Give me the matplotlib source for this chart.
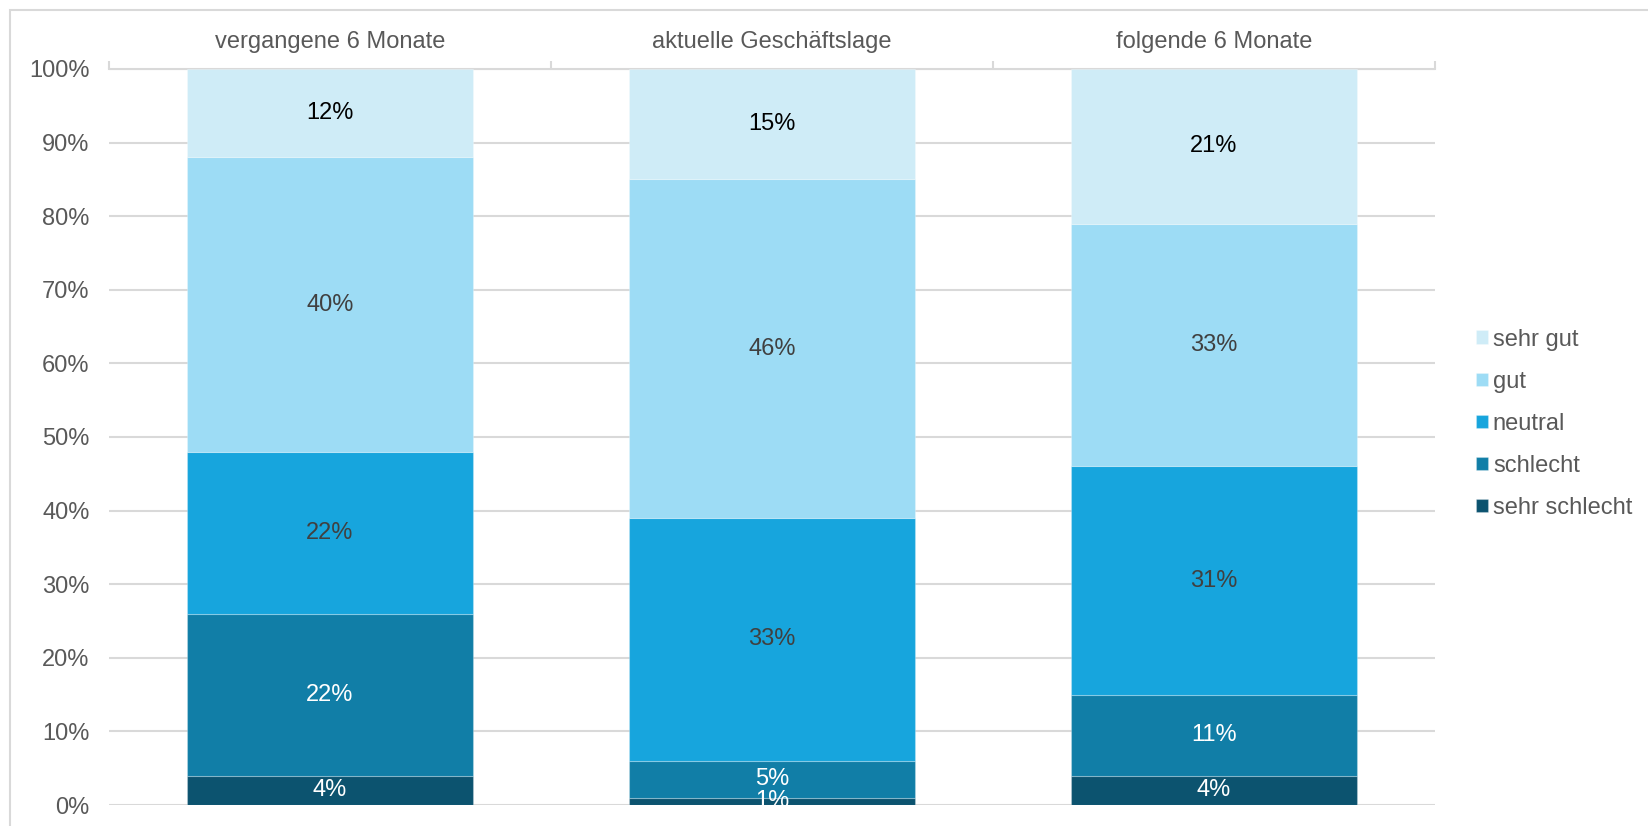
import matplotlib
matplotlib.use("Agg")
import matplotlib.pyplot as plt
from matplotlib.patches import Rectangle
import numpy as np

plt.rcParams['font.family'] = ['Liberation Sans', 'DejaVu Sans']

kategorien = ['vergangene 6 Monate', 'aktuelle Geschäftslage', 'folgende 6 Monate']
stufen = ['sehr schlecht', 'schlecht', 'neutral', 'gut', 'sehr gut']
sehr_schlecht = [4, 1, 4]
schlecht = [22, 5, 11]
neutral = [22, 33, 31]
gut = [40, 46, 33]
sehr_gut = [12, 15, 21]

farben = ['#0C536F', '#117EA7', '#17A5DD', '#9DDCF5', '#CFECF7']
textfarben = ['white', 'white', '#404040', '#404040', 'black']
grau = '#D9D9D9'
schrift = '#595959'
fs = 17

werte = [sehr_schlecht, schlecht, neutral, gut, sehr_gut]

fig = plt.figure(figsize=(16.48, 8.26), dpi=100)
ax = fig.add_axes([0.0661, 0.0254, 0.8047, 0.8911])

x = np.arange(len(kategorien))
unten = np.zeros(len(kategorien))
for name, w, f, tf in zip(stufen, werte, farben, textfarben):
    w = np.array(w, dtype=float)
    ax.bar(x, w, 0.645, bottom=unten, color=f, label=name,
           edgecolor=(1, 1, 1, 0.25), linewidth=0.8, zorder=3)
    for xi, wi, ui in zip(x, w, unten):
        ax.text(xi, ui + wi / 2, f"{wi:.0f}%", ha='center', va='center',
                color=tf, fontsize=fs, zorder=4)
    unten += w

ax.set_xlim(-0.5, 2.5)
ax.set_ylim(0, 100)
ax.set_yticks(range(0, 101, 10))
ax.set_yticklabels([f"{t}%" for t in range(0, 101, 10)])
ax.yaxis.grid(True, color=grau, linewidth=1.5, zorder=0)
ax.tick_params(axis='y', length=0, pad=14, labelsize=fs, labelcolor=schrift)

ax.xaxis.tick_top()
ax.set_xticks(x)
ax.set_xticklabels(kategorien)
ax.set_xticks([-0.5, 0.5, 1.5, 2.5], minor=True)
ax.tick_params(axis='x', which='major', length=0, pad=11.5, labelsize=fs, labelcolor=schrift)
ax.tick_params(axis='x', which='minor', length=6, width=1.5, color=grau, direction='out')

for s in ['left', 'right', 'bottom']:
    ax.spines[s].set_visible(False)
ax.spines['top'].set_color(grau)
ax.spines['top'].set_linewidth(1.5)

h, l = ax.get_legend_handles_labels()
leg = ax.legend(h[::-1], l[::-1], loc='center left', bbox_to_anchor=(1.024, 0.518),
                frameon=False, fontsize=fs, handlelength=0.5, handleheight=0.5,
                handletextpad=0.2, labelspacing=0.85, borderaxespad=0)
for t in leg.get_texts():
    t.set_color(schrift)

fig.add_artist(Rectangle((10 / 1648, -0.5), 2, 0.5 + 1 - 10 / 826,
                         transform=fig.transFigure, fill=False,
                         edgecolor=grau, linewidth=1.5))

fig.savefig('out.png', dpi=100)
